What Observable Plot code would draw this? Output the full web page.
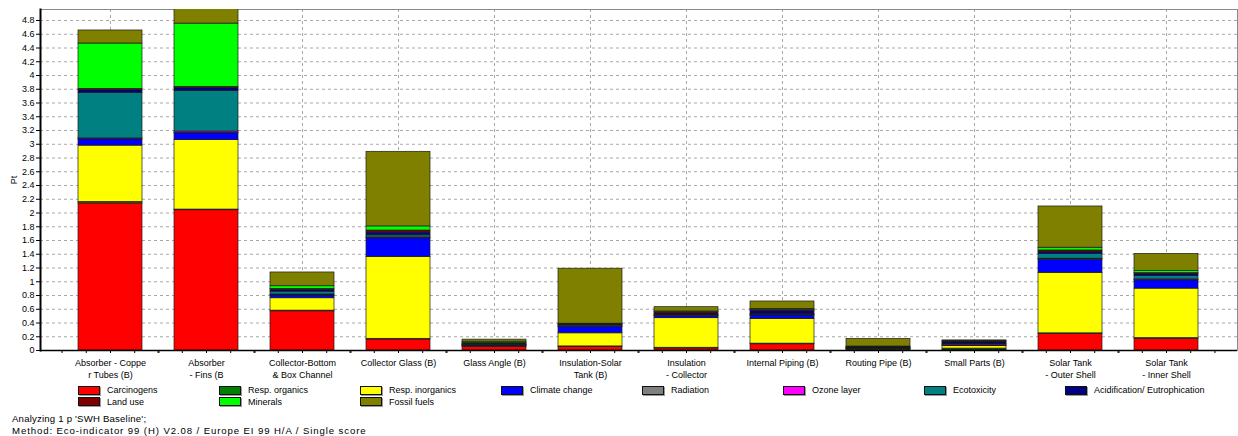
<!DOCTYPE html>
<html>
<head>
<meta charset="utf-8">
<script src="https://cdn.jsdelivr.net/npm/d3@7"></script>
<script src="https://cdn.jsdelivr.net/npm/@observablehq/plot@0.6"></script>
<style>
  body { margin: 0; background: #fff; font-family: "Liberation Sans", Arial, sans-serif; }
  #wrap { position: relative; width: 1238px; height: 436px; overflow: hidden; }
  #chart svg { display: block; }
  #legend { position: absolute; left: 0; top: 385px; width: 1238px; height: 24px; font-size: 9px; color: #000; }
  .item { position: absolute; display: flex; align-items: center; height: 10px; white-space: nowrap; }
  .sw { width: 20px; height: 7px; border: 1px solid #111; box-shadow: 1px 1px 0 #9a9a9a; margin-right: 7px; }
  #footer { position: absolute; left: 12px; top: 413px; font-size: 9.6px; line-height: 11.5px; color: #000; }
  #footer div:nth-child(1) { letter-spacing: 0.2px; }
  #footer div:nth-child(2) { letter-spacing: 0.9px; }
</style>
</head>
<body>
<div id="wrap">
  <div id="chart"></div>
  <div id="legend"></div>
  <div id="footer"></div>
</div>
<script>
const categories = [
  "Absorber - Coppe\nr Tubes (B)",
  "Absorber\n- Fins (B",
  "Collector-Bottom\n& Box Channel",
  "Collector Glass (B)",
  "Glass Angle (B)",
  "Insulation-Solar\nTank (B)",
  "Insulation\n- Collector",
  "Internal Piping (B)",
  "Routing Pipe (B)",
  "Small Parts (B)",
  "Solar Tank\n- Outer Shell",
  "Solar Tank\n- Inner Shell"
];

const impacts = [
  "Carcinogens", "Resp. organics", "Resp. inorganics", "Climate change",
  "Radiation", "Ozone layer", "Ecotoxicity", "Acidification/ Eutrophication",
  "Land use", "Minerals", "Fossil fuels"
];
const colors = [
  "#ff0000", "#008000", "#ffff00", "#0000ff",
  "#808080", "#ff00ff", "#008080", "#000080",
  "#800000", "#00ff00", "#808000"
];

// Pt values per impact category, one value per component (same order as categories)
const carcinogens    = [2.14, 2.04, 0.57, 0.16, 0.055, 0.05, 0.03, 0.09, 0.008, 0.008, 0.24, 0.17];
const respOrganics   = [0.02, 0.01, 0.01, 0.01, 0.005, 0.01, 0.01, 0.01, 0.005, 0.02, 0.01, 0.01];
const respInorganics = [0.82, 1.01, 0.18, 1.19, 0.01, 0.19, 0.43, 0.36, 0.008, 0.035, 0.88, 0.72];
const climateChange  = [0.09, 0.10, 0.04, 0.27, 0.01, 0.09, 0.03, 0.05, 0.006, 0.01, 0.19, 0.12];
const radiation      = [0.005, 0.005, 0.005, 0.005, 0.002, 0.005, 0.003, 0.003, 0.002, 0.002, 0.005, 0.005];
const ozoneLayer     = [0.01, 0.02, 0.01, 0.01, 0.001, 0.005, 0.005, 0.01, 0.002, 0.015, 0.01, 0.01];
const ecotoxicity    = [0.66, 0.59, 0.04, 0.03, 0.01, 0.015, 0.01, 0.01, 0.006, 0.005, 0.07, 0.05];
const acidification  = [0.04, 0.04, 0.03, 0.04, 0.01, 0.01, 0.02, 0.04, 0.006, 0.025, 0.03, 0.03];
const landUse        = [0.02, 0.02, 0.01, 0.03, 0.005, 0.005, 0.02, 0.02, 0.005, 0.01, 0.02, 0.01];
const minerals       = [0.66, 0.92, 0.04, 0.06, 0.02, 0.01, 0.01, 0.01, 0.01, 0.005, 0.04, 0.03];
const fossilFuels    = [0.19, 0.22, 0.20, 1.085, 0.03, 0.80, 0.062, 0.11, 0.11, 0.012, 0.60, 0.25];

const yTicks = [0, 0.2, 0.4, 0.6, 0.8, 1, 1.2, 1.4, 1.6, 1.8, 2, 2.2, 2.4, 2.6, 2.8, 3, 3.2, 3.4, 3.6, 3.8, 4, 4.2, 4.4, 4.6, 4.8];
const yLabel = "Pt";
const footerLines = [
  "Analyzing 1 p 'SWH Baseline';",
  "Method: Eco-indicator 99 (H) V2.08 / Europe EI 99 H/A / Single score"
];

const series = [carcinogens, respOrganics, respInorganics, climateChange, radiation, ozoneLayer,
                ecotoxicity, acidification, landUse, minerals, fossilFuels];
const data = [];
impacts.forEach((imp, j) => series[j].forEach((v, i) => data.push({category: categories[i], impact: imp, value: v})));

const gridStyle = {stroke: "#a8a8a8", strokeOpacity: 1, strokeDasharray: "3,3"};
const minorOffsets = [-48.45, -24.2, 24.2, 48.45];

const chart = Plot.plot({
  width: 1238,
  height: 382,
  marginLeft: 40,
  marginRight: 1,
  marginTop: 9,
  marginBottom: 32,
  style: {fontFamily: "'Liberation Sans', Arial, sans-serif", fontSize: "9px", color: "#000", background: "#fff", overflow: "visible"},
  x: {domain: categories, range: [57.2, 1220], paddingInner: 0.33, paddingOuter: 0.165, label: null},
  y: {domain: [0, 4.96], label: null},
  color: {domain: impacts, range: colors},
  marks: [
    Plot.gridY({ticks: yTicks, ...gridStyle}),
    Plot.gridX({...gridStyle}),
    Plot.frame({stroke: "#8a8a8a"}),
    Plot.barY(data, {x: "category", y: "value", fill: "impact", stroke: "#1a1a1a", strokeWidth: 0.7, order: impacts, clip: true}),
    Plot.ruleY([0], {stroke: "#000", strokeWidth: 1.5}),
    Plot.frame({anchor: "left", stroke: "#000", strokeWidth: 2}),
    Plot.axisY({ticks: yTicks, tickSize: 4, tickPadding: 2, tickFormat: d => String(d),
                label: yLabel, labelAnchor: "center", labelOffset: 30, labelArrow: false}),
    Plot.axisX({tickSize: 3, tickPadding: 4, lineHeight: 1.33, label: null}),
    ...minorOffsets.map(dx => Plot.axisX({tickSize: 3, dx, tickFormat: () => "", label: null}))
  ]
});
document.getElementById("chart").appendChild(chart);

const legend = document.getElementById("legend");
impacts.forEach((imp, i) => {
  const col = i % 8, row = Math.floor(i / 8);
  const item = document.createElement("div");
  item.className = "item";
  item.style.left = (78 + col * 141) + "px";
  item.style.top = (row * 11.5) + "px";
  const sw = document.createElement("div");
  sw.className = "sw";
  sw.style.background = colors[i];
  const t = document.createElement("span");
  t.textContent = imp;
  item.appendChild(sw);
  item.appendChild(t);
  legend.appendChild(item);
});

const footer = document.getElementById("footer");
footerLines.forEach(s => { const d = document.createElement("div"); d.textContent = s; footer.appendChild(d); });
</script>
</body>
</html>
